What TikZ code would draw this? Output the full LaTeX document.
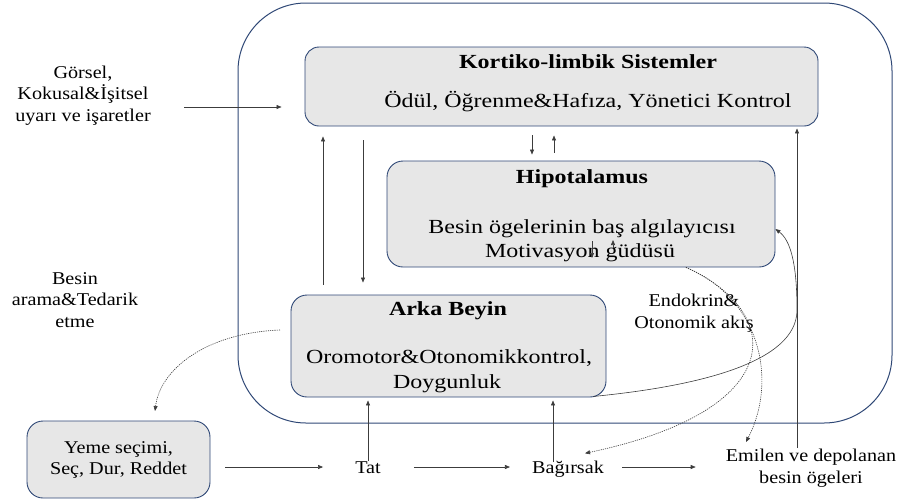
\documentclass[tikz,border=0pt]{standalone}
\usepackage{fontspec}
\setmainfont{Liberation Serif}
\newfontfamily\boxfnt{Liberation Serif}[FakeStretch=1.2]
\newfontfamily\lblfnt{Liberation Serif}[FakeStretch=1.12]
\usetikzlibrary{arrows.meta}
\definecolor{bordc}{RGB}{47,72,118}
\definecolor{boxc}{RGB}{231,231,231}
\definecolor{arrc}{RGB}{60,60,60}
\begin{document}
\begin{tikzpicture}[x=1pt,y=-1pt,
  bx/.style={draw=bordc, fill=boxc, line width=0.9pt, rounded corners=14pt, inner sep=0pt},
  outerbox/.style={draw=bordc, line width=1pt, rounded corners=68pt, inner sep=0pt},
  boxtxt/.style={font=\boxfnt\fontsize{20}{24}\selectfont, inner sep=0pt},
  lbl/.style={font=\lblfnt\fontsize{18}{21.5}\selectfont, inner sep=0pt, align=center},
  arr/.style={draw=arrc, line width=0.6pt, -{Triangle[length=5pt,width=4pt]}},
  dotarr/.style={draw=arrc, line width=0.6pt, dash pattern=on 1.2pt off 1pt, -{Triangle[length=5pt,width=4pt]}}]
\useasboundingbox (0,0) rectangle (899,501);
% containers
\node[outerbox, minimum width=654pt, minimum height=420pt] (outer) at (565,213) {};
\node[bx, minimum width=513pt, minimum height=79pt] (kort) at (561.5,86.5) {};
\node[bx, minimum width=388pt, minimum height=106pt, rounded corners=16pt] (hipo) at (581,214) {};
\node[bx, minimum width=315pt, minimum height=102pt, rounded corners=16pt] (arka) at (448.5,346) {};
\node[bx, minimum width=183pt, minimum height=77pt, rounded corners=16pt, font=\lblfnt\fontsize{18}{21}\selectfont, align=center] (yeme) at (118.5,459.5) {Yeme seçimi,\\Seç, Dur, Reddet};
% box texts
\node[boxtxt, anchor=base] (kortT) at (588,68) {\bfseries Kortiko-limbik Sistemler};
\node[boxtxt, anchor=base] (kortB) at (588,107) {Ödül, Öğrenme\&Hafıza, Yönetici Kontrol};
\node[boxtxt, anchor=base] (hipoT) at (582,183) {\bfseries Hipotalamus};
\node[boxtxt, anchor=base] (hipoB) at (582,233) {Besin ögelerinin baş algılayıcısı};
\node[boxtxt, anchor=base] (hipoC) at (580,257) {Motivasyon güdüsü};
\node[boxtxt, anchor=base] (arkaT) at (448,315) {\bfseries Arka Beyin};
\node[boxtxt, anchor=base] (arkaB) at (449,363) {Oromotor\&Otonomikkontrol,};
\node[boxtxt, anchor=base] (arkaC) at (447,388) {Doygunluk};
% free labels (base = last line)
\node[lbl, anchor=base] (sens) at (83,121) {Görsel,\\Kokusal\&İşitsel\\uyarı ve işaretler};
\node[lbl, anchor=base] (besin) at (75,327) {Besin\\arama\&Tedarik\\etme};
\node[lbl, anchor=base] (endo) at (694,328) {Endokrin\&\\Otonomik akış};
\node[lbl, anchor=base] (tat) at (368,473) {Tat};
\node[lbl, anchor=base] (bag) at (568,473) {Bağırsak};
\node[lbl, anchor=base] (emil) at (811,483) {Emilen ve depolanan\\besin ögeleri};
% helper coordinates
\coordinate (s1) at (184,107);
\coordinate (row) at (0,467);
\coordinate (c1) at (323,0);
\coordinate (c2) at (363,0);
\coordinate (c3) at (532,0);
\coordinate (c4) at (554,0);
\coordinate (b1) at (553,462);
\coordinate (e1) at (797,448);
\coordinate (m1) at (592,241);
\coordinate (m2) at (592,258);
\coordinate (m3) at (613,248);
\coordinate (m4) at (613,240);
\coordinate (d1) at (280,330);
\coordinate (d2) at (155,411);
\coordinate (d3) at (746,442);
% straight connectors
\draw[arr, shorten >=23pt] (s1) -- (kort.west |- s1);
\draw[arr, shorten <=10pt, shorten >=10pt] (arka.north -| c1) -- (kort.south -| c1);
\draw[arr, shorten <=14pt, shorten >=12pt] (kort.south -| c2) -- (arka.north -| c2);
\draw[arr, shorten <=9pt, shorten >=6pt] (kort.south -| c3) -- (hipo.north -| c3);
\draw[arr, shorten <=8pt, shorten >=9pt] (hipo.north -| c4) -- (kort.south -| c4);
\draw[arr] (m1) -- (m2);
\draw[arr] (m3) -- (m4);
\draw[arr, shorten >=3pt] (tat.north) -- (arka.south -| tat.north);
\draw[arr, shorten >=3pt] (b1) -- (arka.south -| b1);
\draw[arr, shorten >=2pt] (e1) -- (kort.south -| e1);
\draw[arr, shorten <=15pt, shorten >=32pt] (yeme.east |- row) -- (tat.west |- row);
\draw[arr, shorten <=33pt, shorten >=22pt] (tat.east |- row) -- (bag.west |- row);
\draw[arr, shorten <=18pt, shorten >=30pt] (bag.east |- row) -- (emil.west |- row);
% curved connectors
\draw[dotarr] (d1) .. controls (205,333) and (160,370) .. (d2);
\draw[arr] ([xshift=-13pt,yshift=1pt]arka.south east) .. controls (700,386) and (797,362) .. (797,310) .. controls (797,262) and (790,240) .. ([yshift=-15pt]hipo.east);
\draw[dotarr] ([xshift=105pt]hipo.south) .. controls (760,298) and (778,380) .. (d3);
\draw[dotarr] ([xshift=105pt]hipo.south) .. controls (785,312) and (790,410) .. ([xshift=17pt,yshift=7pt]bag.north);
\end{tikzpicture}
\end{document}
